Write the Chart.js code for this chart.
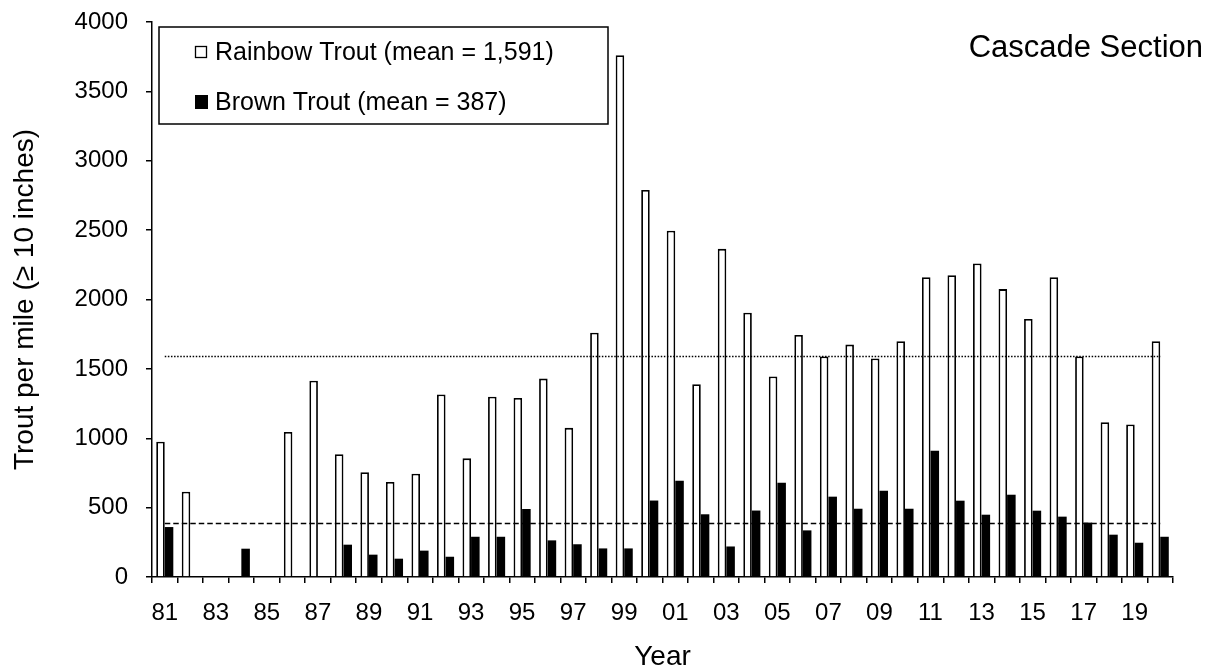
<!DOCTYPE html>
<html>
<head>
<meta charset="utf-8">
<script src="https://cdn.jsdelivr.net/npm/chart.js@4.4.0/dist/chart.umd.min.js"></script>
<style>
html,body{margin:0;padding:0;background:#fff;}
#wrap{width:1214px;height:668px;position:relative;}
canvas{display:block;}
</style>
</head>
<body>
<div id="wrap"><canvas id="c" width="1214" height="668"></canvas></div>
<script>
// ---- data ----
const years = ['81','82','83','84','85','86','87','88','89','90','91','92','93','94','95','96','97','98','99',
               '00','01','02','03','04','05','06','07','08','09','10','11','12','13','14','15','16','17','18','19','20'];
const rainbowTrout = [975, 615, null, null, null, 1045, 1415, 885, 755, 685, 745, 1315, 855, 1300, 1290, 1430, 1075, 1760, 3760,
                      2790, 2495, 1390, 2365, 1905, 1445, 1745, 1590, 1675, 1575, 1700, 2160, 2175, 2260, 2075, 1860, 2160, 1590, 1115, 1100, 1700];
const brownTrout = [360, null, null, 204, null, null, null, 233, 161, 132, 190, 146, 290, 290, 490, 264, 236, 206, 206,
                    551, 694, 452, 220, 479, 680, 336, 579, 492, 622, 492, 910, 550, 449, 593, 478, 435, 392, 305, 247, 290];
const rainbowMean = 1591;
const brownMean = 387;
const seriesNames = ['Rainbow Trout', 'Brown Trout'];
const sectionName = 'Cascade Section';
const xTitle = 'Year';
const yTitle = 'Trout per mile (\u2265 10 inches)';
const yMin = 0, yMax = 4000, yStep = 500;

const FONT = "'Liberation Sans', Arial, sans-serif";
const fmt = v => v.toLocaleString('en-US');

// mean reference lines drawn through the scales
const meanLines = {
  id: 'meanLines',
  afterDatasetsDraw(chart) {
    const {ctx, scales: {x, y}} = chart;
    const x0 = x.getPixelForValue(0);
    const x1 = x.getPixelForValue(years.length - 1);
    const draw = (val, dash, w) => {
      const py = Math.round(y.getPixelForValue(val)) + 0.5;
      ctx.save();
      ctx.strokeStyle = '#000';
      ctx.lineWidth = w;
      ctx.setLineDash(dash);
      ctx.beginPath();
      ctx.moveTo(x0, py);
      ctx.lineTo(x1, py);
      ctx.stroke();
      ctx.restore();
    };
    draw(rainbowMean, [1.5, 1.6], 1.3);
    draw(brownMean, [5.5, 3], 1.4);
  }
};

// boxed legend + section label
const boxLegend = {
  id: 'boxLegend',
  afterDraw(chart) {
    const {ctx, chartArea: ca} = chart;
    const bx = ca.left + 7, by = ca.top + 5, bw = 449, bh = 97;
    ctx.save();
    ctx.fillStyle = '#fff';
    ctx.fillRect(bx, by, bw, bh);
    ctx.strokeStyle = '#000';
    ctx.lineWidth = 1.5;
    ctx.strokeRect(bx, by, bw, bh);
    const labels = [
      seriesNames[0] + ' (mean = ' + fmt(rainbowMean) + ')',
      seriesNames[1] + ' (mean = ' + fmt(brownMean) + ')'
    ];
    const rows = [by + 25, by + 75];
    ctx.font = '25px ' + FONT;
    ctx.textBaseline = 'middle';
    ctx.textAlign = 'left';
    ctx.fillStyle = '#000';
    // marker 1: hollow square
    ctx.lineWidth = 1.3;
    ctx.strokeRect(bx + 36.5, rows[0] - 5.5, 11, 11);
    // marker 2: filled square
    ctx.fillRect(bx + 36, rows[1] - 7, 13, 14);
    ctx.fillText(labels[0], bx + 56, rows[0] + 1);
    ctx.fillText(labels[1], bx + 56, rows[1] + 1);
    // section label
    ctx.font = '31px ' + FONT;
    ctx.textAlign = 'right';
    ctx.fillText(sectionName, 1203, ca.top + 26);
    ctx.restore();
  }
};

new Chart(document.getElementById('c'), {
  type: 'bar',
  data: {
    labels: years,
    datasets: [
      {
        label: seriesNames[0],
        data: rainbowTrout,
        backgroundColor: '#fff',
        borderColor: '#000',
        borderWidth: 1.8,
        borderSkipped: 'bottom',
        categoryPercentage: 0.67,
        barPercentage: 1.0
      },
      {
        label: seriesNames[1],
        data: brownTrout,
        backgroundColor: '#000',
        borderWidth: 0,
        categoryPercentage: 0.67,
        barPercentage: 1.0
      }
    ]
  },
  options: {
    responsive: false,
    animation: false,
    devicePixelRatio: 1,
    layout: {padding: {top: 22, right: 41, left: 0, bottom: 0}},
    plugins: {legend: {display: false}, tooltip: {enabled: false}},
    scales: {
      x: {
        offset: true,
        grid: {display: true, drawOnChartArea: false, drawTicks: true, tickLength: 6, color: '#000', lineWidth: 1.5, offset: true},
        border: {display: true, color: '#000', width: 1.5},
        ticks: {
          autoSkip: false, maxRotation: 0, minRotation: 0, color: '#000', padding: 16,
          font: {family: FONT, size: 24},
          callback: (v, i) => (i % 2 === 0 ? years[i] : '')
        },
        title: {display: true, text: xTitle, color: '#000', font: {family: FONT, size: 28, lineHeight: 0.8}, padding: {top: 0, bottom: 0}},
        afterFit: s => { s.height = 91; s.paddingLeft = 0; s.paddingRight = 0; }
      },
      y: {
        min: yMin, max: yMax,
        grid: {display: true, drawOnChartArea: false, drawTicks: true, tickLength: 6, color: '#000', lineWidth: 1.5},
        border: {display: true, color: '#000', width: 1.5},
        ticks: {stepSize: yStep, color: '#000', padding: 18, font: {family: FONT, size: 24}, callback: v => String(v)},
        title: {display: true, text: yTitle, color: '#000', font: {family: FONT, size: 28, lineHeight: 1}, padding: {top: 11, bottom: 0}},
        afterFit: s => { s.width = 152; s.paddingTop = 0; s.paddingBottom = 0; }
      }
    }
  },
  plugins: [meanLines, boxLegend]
});
</script>
</body>
</html>
